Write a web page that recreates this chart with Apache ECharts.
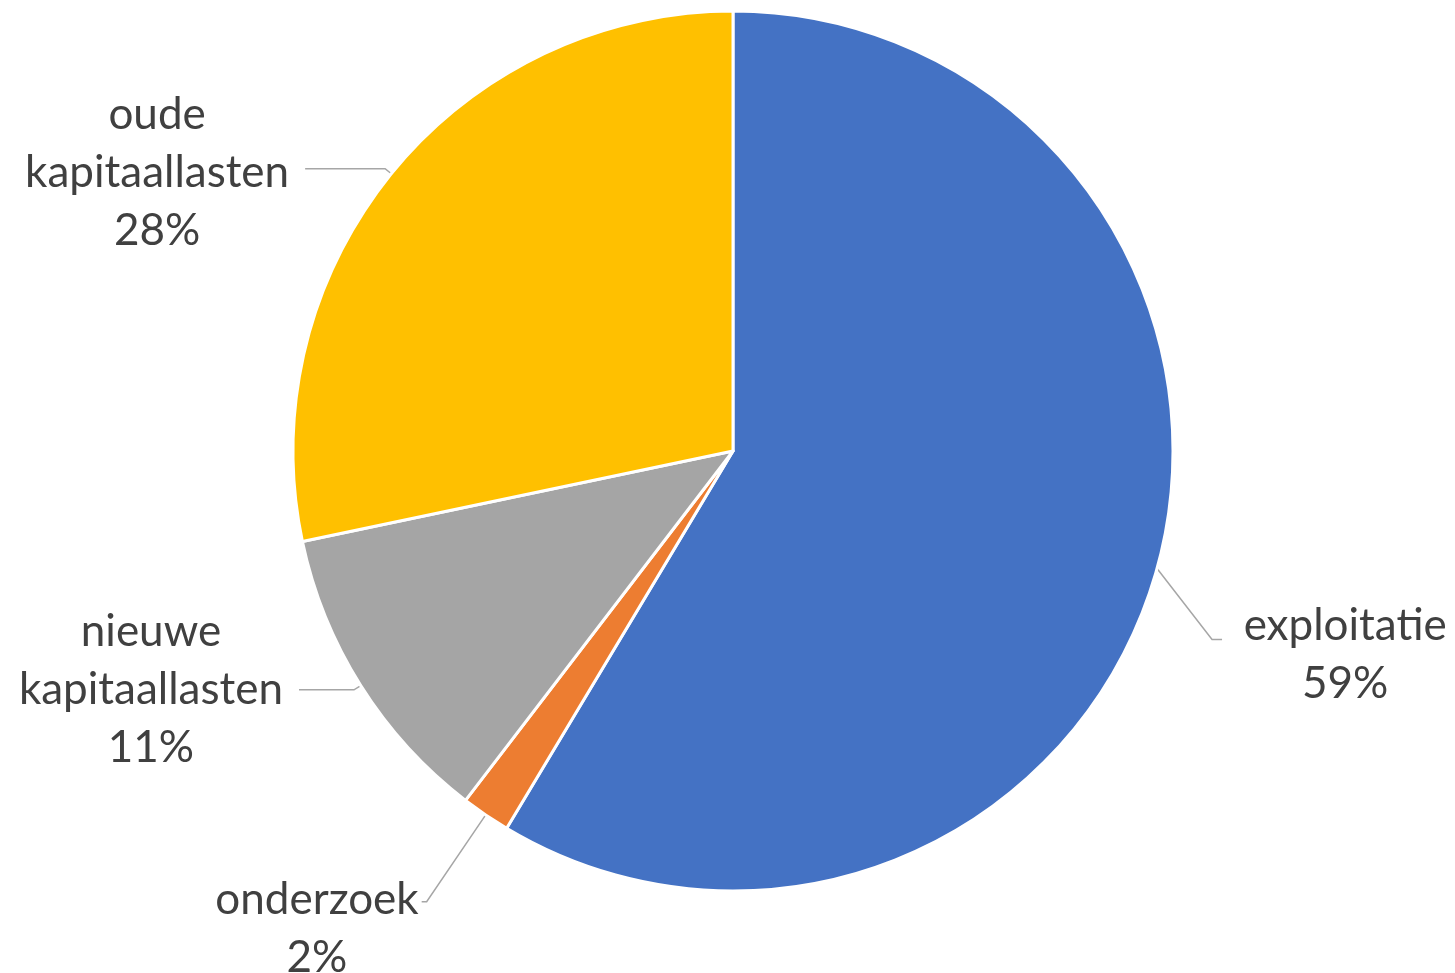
<!DOCTYPE html>
<html>
<head>
<meta charset="utf-8">
<script src="https://cdn.jsdelivr.net/npm/echarts@6/dist/echarts.min.js"></script>
<style>
html,body{margin:0;padding:0;background:#fff;}
#chart{width:1455px;height:973px;}
</style>
</head>
<body>
<div id="chart"></div>
<script>
const categories = ['exploitatie', 'onderzoek', 'nieuwe kapitaallasten', 'oude kapitaallasten'];
const values = [58.6, 1.8, 11.3, 28.3];
const colors = ['#4472C4', '#ED7D31', '#A5A5A5', '#FFC000'];

const FONT = 'Lato';
const labelCfg = [
  { len: 10, len2: 65, pad: [168, 0, 0, 0], dist: 12 },
  { len: 105, len2: 5, pad: [54, 0, 0, 0], dist: 3 },
  { len: 8, len2: 55, pad: [0, 0, 0, 0], dist: 16 },
  { len: 8, len2: 80, pad: [8, 0, 0, 0], dist: 16 }
];

const data = categories.map((name, i) => ({
  name: name,
  value: values[i],
  itemStyle: { color: colors[i] },
  label: { padding: labelCfg[i].pad, distanceToLabelLine: labelCfg[i].dist },
  labelLine: { length: labelCfg[i].len, length2: labelCfg[i].len2 }
}));

const chart = echarts.init(document.getElementById('chart'), null, { renderer: 'canvas' });
chart.setOption({
  animation: false,
  backgroundColor: '#ffffff',
  series: [{
    type: 'pie',
    center: [733, 451],
    radius: 440,
    startAngle: 90,
    clockwise: true,
    avoidLabelOverlap: false,
    itemStyle: { borderColor: '#ffffff', borderWidth: 3 },
    label: {
      show: true,
      position: 'outside',
      alignTo: 'none',
      formatter: function (p) {
        const lines = p.name.split(' ').map(w => '{c|' + w + '}');
        lines.push('{c|' + Math.round(p.percent) + '%}');
        return lines.join('\n');
      },
      rich: {
        c: { align: 'center', fontSize: 44, lineHeight: 58, color: '#404040', fontFamily: FONT }
      }
    },
    labelLine: {
      show: true,
      lineStyle: { color: '#A6A6A6', width: 1.5 }
    },
    labelLayout: function (params) {
      if (params.dataIndex === 0 && params.labelLinePoints) {
        const p0 = params.labelLinePoints[0];
        return {
          labelLinePoints: [p0, [p0[0] + 55, p0[1] + 71], [p0[0] + 65, p0[1] + 71]]
        };
      }
      return {};
    },
    data: data
  }]
});
</script>
</body>
</html>
